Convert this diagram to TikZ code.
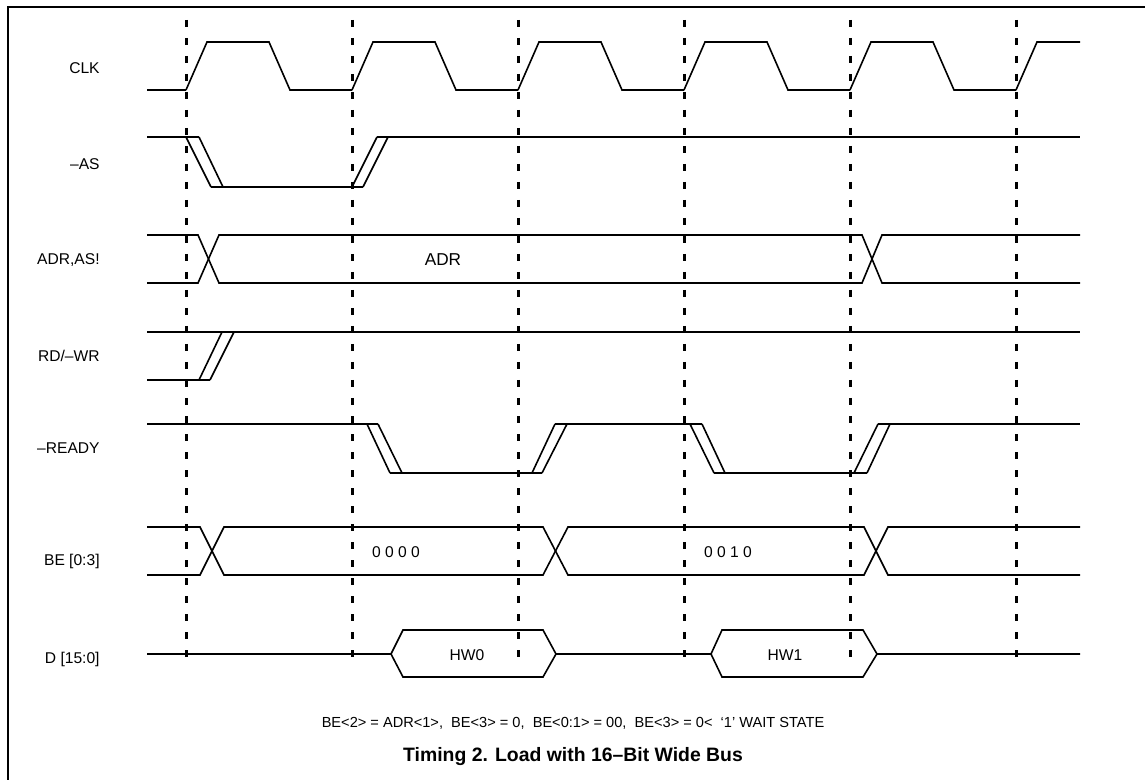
\documentclass[tikz,border=0pt]{standalone}
\usepackage{fontspec}
\setmainfont{Liberation Sans}
\usetikzlibrary{positioning}

\begin{document}
\begin{tikzpicture}[x=0.5pt,y=-0.5pt,
	sig/.style={line width=0.8pt,line join=miter},
	tick/.style={line width=1.5pt,dash pattern=on 3.5pt off 5.5pt},
	lbl/.style={anchor=east,inner sep=0pt,font=\fontsize{7.8}{9}\selectfont},
	val/.style={inner sep=0pt,font=\fontsize{7.8}{9}\selectfont}
	]
	\useasboundingbox (0,0) rectangle (1145,780);

	% frame
	\draw[line width=1pt] (1145,7) -- (8,7) -- (8,780);

	\foreach \t in {186,352,518,684,850,1016}
		\draw[tick] (\t,20) -- (\t,666);

	\node[lbl] (lclk) at (100,68) {CLK};
	\node[lbl] (las) at (100,164) {–AS};
	\node[lbl] (ladr) at (100,260) {ADR,AS!};
	\node[lbl] (lrdwr) at (100,356) {RD/–WR};
	\node[lbl] (lready) at (100,448) {–READY};
	\node[lbl] (lbe) at (100,561) {BE [0:3]};
	\node[lbl] (ld) at (100,659) {D [15:0]};

	% clock
	\draw[sig] (147,90) -- (186,90);
	\foreach \t in {186,352,518,684,850}
		\draw[sig] (\t,90) -- ++(21,-48) -- ++(62,0) -- ++(21,48) -- ++(62,0);
	\draw[sig] (1016,90) -- (1037,42) -- (1080,42);

	% address strobe
	\draw[sig] (147,137) -- (199,137);
	\draw[sig] (186,137) -- (211,187);
	\draw[sig] (199,137) -- (223,187);
	\draw[sig] (211,187) -- (363,187);
	\draw[sig] (352,187) -- (377,137);
	\draw[sig] (363,187) -- (388,137);
	\draw[sig] (377,137) -- (1080,137);

	% address bus
	\draw[sig] (147,235) -- (198,235) -- (219,283) -- (862,283) -- (882,235) -- (1080,235);
	\draw[sig] (147,283) -- (198,283) -- (219,235) -- (862,235) -- (882,283) -- (1080,283);
	\node[val,font=\fontsize{8.6}{10}\selectfont] (adr) at (443,260) {ADR};

	% read/write
	\draw[sig] (147,332) -- (1080,332);
	\draw[sig] (147,380) -- (210,380);
	\draw[sig] (199,380) -- (222,332);
	\draw[sig] (210,380) -- (234,332);

	% ready
	\draw[sig] (147,424) -- (378,424);
	\draw[sig] (367,424) -- (390,473);
	\draw[sig] (378,424) -- (402,473);
	\draw[sig] (390,473) -- (542,473);
	\draw[sig] (532,473) -- (555,424);
	\draw[sig] (542,473) -- (567,424);
	\draw[sig] (555,424) -- (702,424);
	\draw[sig] (690,424) -- (714,473);
	\draw[sig] (702,424) -- (725,473);
	\draw[sig] (714,473) -- (867,473);
	\draw[sig] (854,473) -- (878,424);
	\draw[sig] (867,473) -- (890,424);
	\draw[sig] (878,424) -- (1080,424);

	% byte enables
	\draw[sig] (147,527) -- (200,527) -- (224,575) -- (543,575) -- (568,527) -- (864,527) -- (888,575) -- (1080,575);
	\draw[sig] (147,575) -- (200,575) -- (224,527) -- (543,527) -- (568,575) -- (864,575) -- (888,527) -- (1080,527);
	\node[val] (be0) at (396,552) {0 0 0 0};
	\node[val] (be1) at (728,552) {0 0 1 0};

	% data
	\draw[sig] (147,654) -- (391,654) -- (403,630) -- (543,630) -- (556,654) -- (711,654) -- (722,630) -- (863,630) -- (877,654) -- (1080,654);
	\draw[sig] (391,654) -- (403,677) -- (543,677) -- (556,654);
	\draw[sig] (711,654) -- (722,677) -- (863,677) -- (877,654);
	\node[val] (hw0) at (467,655) {HW0};
	\node[val] (hw1) at (785,655) {HW1};

	\node[val,font=\fontsize{7.3}{8}\selectfont] (note) at (573,723)
		{BE<2> = ADR<1>,\ \ BE<3> = 0,\ \ BE<0:1> = 00,\ \ BE<3> = 0<\ \ `1' WAIT STATE};
	\node[val,font=\fontsize{9.7}{11}\selectfont\bfseries] (title) at (573,757)
		{Timing 2. Load with 16–Bit Wide Bus};
\end{tikzpicture}
\end{document}
